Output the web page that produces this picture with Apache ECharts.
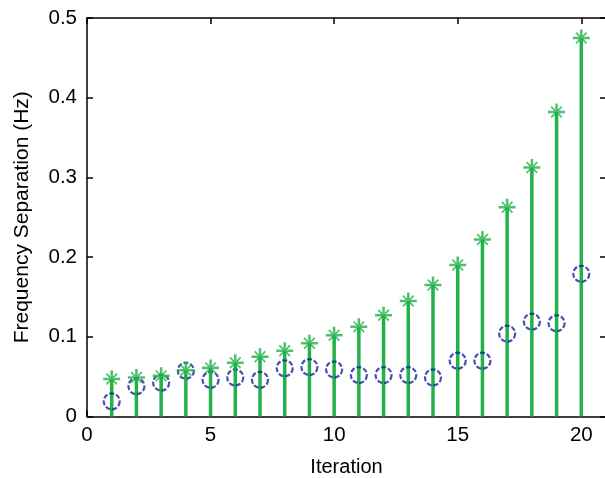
<!DOCTYPE html>
<html>
<head>
<meta charset="utf-8">
<script src="https://cdn.jsdelivr.net/npm/echarts@6/dist/echarts.min.js"></script>
<style>html,body{margin:0;padding:0;background:#fff}#c{width:605px;height:478px}</style>
</head>
<body>
<div id="c"></div>
<script>
const iterations = [1,2,3,4,5,6,7,8,9,10,11,12,13,14,15,16,17,18,19,20];
const greenValues = [0.047,0.049,0.051,0.058,0.061,0.0675,0.075,0.0825,0.092,0.102,0.1125,0.127,0.145,0.165,0.190,0.222,0.2625,0.3125,0.382,0.475];
const blueValues = [0.019,0.038,0.0425,0.0575,0.046,0.049,0.046,0.0605,0.062,0.059,0.052,0.052,0.052,0.049,0.070,0.070,0.104,0.119,0.117,0.179];
const xTicks = [0,5,10,15,20];
const yTicks = [0,0.1,0.2,0.3,0.4,0.5];

const green = '#22b24a';
const blue = '#1a2596';
const starPath = 'path://M8.5,0L11.5,0L11.5,20L8.5,20Z M0,8.5L20,8.5L20,11.5L0,11.5Z M7,7L13,7L13,13L7,13Z M3,4.4L4.4,3L17,15.6L15.6,17Z M15.6,3L17,4.4L4.4,17L3,15.6Z';

const chart = echarts.init(document.getElementById('c'), null, {renderer:'canvas'});
const font = 'Liberation Sans, Arial, sans-serif';
const yFmt = v => { const r = Math.round(v*10)/10; return yTicks.some(t=>Math.abs(t-r)<1e-9) ? (r===0?'0':String(r)) : ''; };

chart.setOption({
  animation:false,
  backgroundColor:'#ffffff',
  grid:{left:87, top:18, width:519, height:398.5, containLabel:false, outerBoundsMode:'none'},
  xAxis:[{
    type:'value', min:0, max:21, interval:5, position:'bottom',
    name:'Iteration', nameLocation:'middle', nameGap:41,
    nameTextStyle:{fontFamily:font, fontSize:20, color:'#000'},
    axisLine:{show:true, onZero:false, lineStyle:{color:'#000', width:1.5}},
    axisTick:{show:true, inside:true, length:6, lineStyle:{color:'#000', width:1.5}},
    axisLabel:{fontFamily:font, fontSize:20.5, color:'#000', margin:8, showMaxLabel:false},
    splitLine:{show:false}
  },{
    type:'value', min:0, max:21, interval:5, position:'top',
    axisLine:{show:true, onZero:false, lineStyle:{color:'#000', width:1.5}},
    axisTick:{show:true, inside:true, length:6, lineStyle:{color:'#000', width:1.5}},
    axisLabel:{show:false}, splitLine:{show:false}
  }],
  yAxis:[{
    type:'value', min:0, max:0.5, interval:0.1, position:'left',
    name:'Frequency Separation (Hz)', nameLocation:'middle', nameGap:54, nameRotate:90,
    nameTextStyle:{fontFamily:font, fontSize:21, color:'#000'},
    axisLine:{show:true, onZero:false, lineStyle:{color:'#000', width:1.5}},
    axisTick:{show:true, inside:true, length:6, lineStyle:{color:'#000', width:1.5}},
    axisLabel:{fontFamily:font, fontSize:20.5, color:'#000', margin:10, formatter:yFmt},
    splitLine:{show:false}
  },{
    type:'value', min:0, max:0.5, interval:0.1, position:'right',
    axisLine:{show:true, onZero:false, lineStyle:{color:'#000', width:1.5}},
    axisTick:{show:true, inside:true, length:6, lineStyle:{color:'#000', width:1.5}},
    axisLabel:{show:false}, splitLine:{show:false}
  }],
  series:[{
    type:'bar', xAxisIndex:0, yAxisIndex:0,
    data: iterations.map((x,i)=>[x, greenValues[i]]),
    barWidth:3.5, itemStyle:{color:green}, z:2, silent:true
  },{
    type:'scatter', xAxisIndex:0, yAxisIndex:0,
    data: iterations.map((x,i)=>[x, blueValues[i]]),
    symbol:'circle', symbolSize:16,
    itemStyle:{color:'rgba(0,0,0,0)', borderColor:blue, borderWidth:2.2, borderType:[5,2]},
    z:3, silent:true
  },{
    type:'scatter', xAxisIndex:0, yAxisIndex:0,
    data: iterations.map((x,i)=>[x, greenValues[i]]),
    symbol:starPath, symbolSize:17,
    itemStyle:{color:green}, z:4, silent:true
  }]
});
</script>
</body>
</html>
